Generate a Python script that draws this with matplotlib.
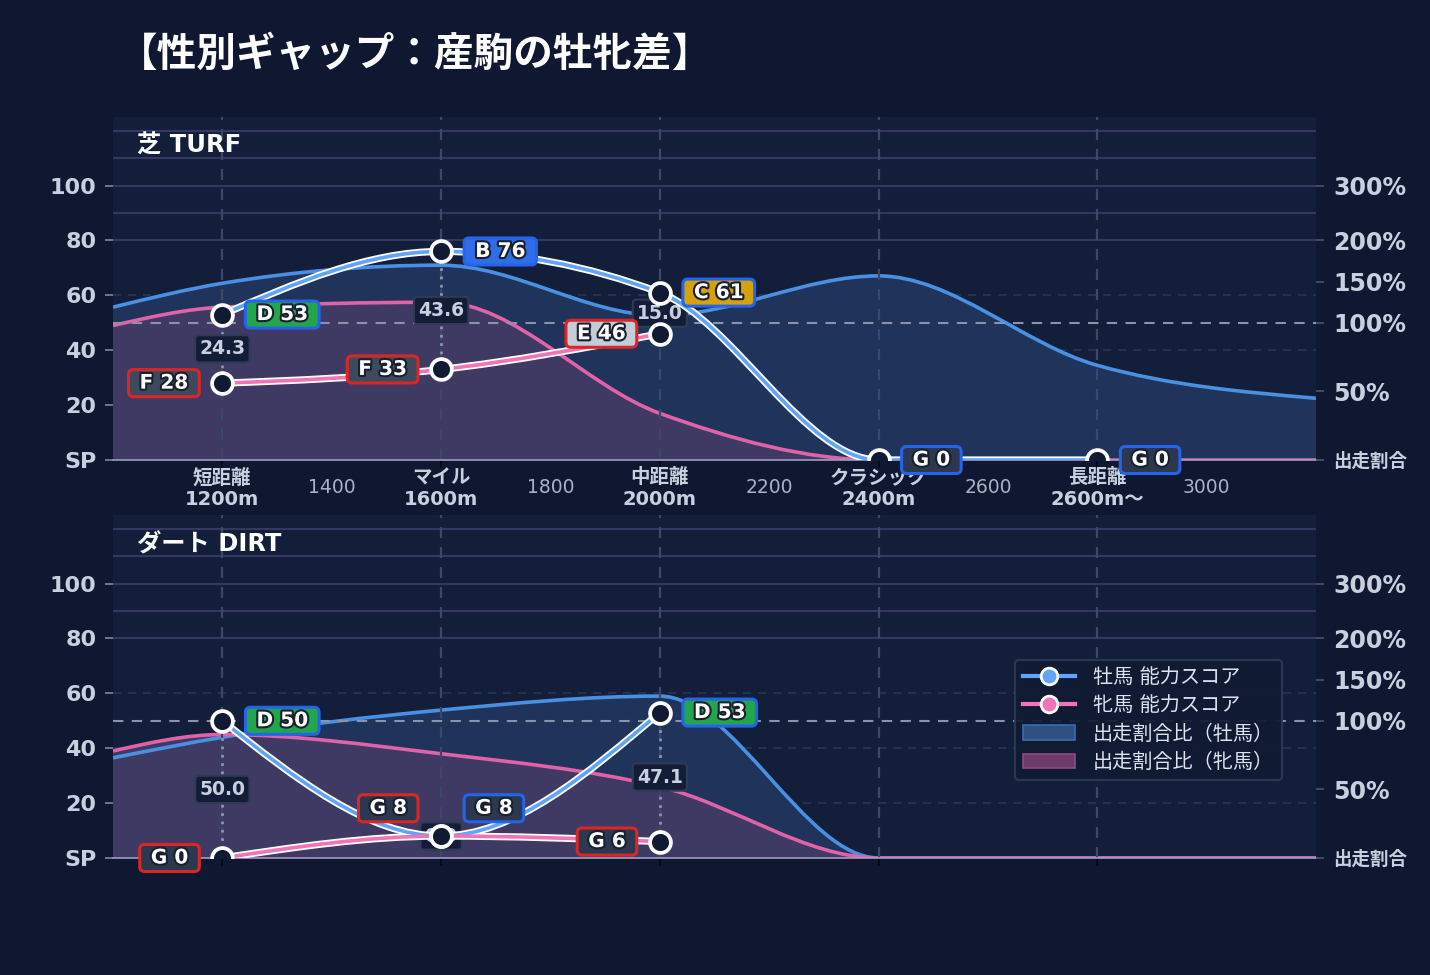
import numpy as np
import matplotlib
matplotlib.use("Agg")
import matplotlib.pyplot as plt
from matplotlib.path import Path
from matplotlib.patches import PathPatch, Patch
from matplotlib.lines import Line2D
import matplotlib.patheffects as pe

plt.rcParams["font.family"] = ["DejaVu Sans", "Noto Sans CJK JP"]

# ---------------------------------------------------------------------------
# Data
# ---------------------------------------------------------------------------

DIST_CAT = [1200, 1600, 2000, 2400, 2800]
CAT_LABELS = ["短距離\n1200m", "マイル\n1600m", "中距離\n2000m",
              "クラシック\n2400m", "長距離\n2600m～"]
MINOR_TICKS = [1400, 1800, 2200, 2600, 3000]

# run-share ratio (%) along the distance axis
RATIO_DIST = [1000, 1200, 1600, 2000, 2400, 2800, 3200]
TURF_MALE_RATIO = [119, 148, 170, 109, 157, 69, 45]
TURF_FEMALE_RATIO = [98, 119, 125, 34, 0, 0, 0]
DIRT_MALE_RATIO = [73, 88, 113, 130, 0, 0, 0]
DIRT_FEMALE_RATIO = [78, 90, 76, 52, 0, 0, 0]

# ability scores
TURF_MALE_SCORE = [53, 76, 61, 0, 0]
TURF_MALE_GRADE = ["D", "B", "C", "G", "G"]
TURF_FEMALE_SCORE = [28, 33, 46]
TURF_FEMALE_GRADE = ["F", "F", "E"]
TURF_GAP = [24.3, 43.6, 15.0]

DIRT_MALE_SCORE = [50, 8, 53]
DIRT_MALE_GRADE = ["D", "G", "D"]
DIRT_FEMALE_SCORE = [0, 8, 6]
DIRT_FEMALE_GRADE = ["G", "G", "G"]
DIRT_GAP = [50.0, 0.0, 47.1]

RATIO_TICKS = [0, 50, 100, 150, 200, 300]
RATIO_TICK_LABELS = ["出走割合", "50%", "100%", "150%", "200%", "300%"]

# ---------------------------------------------------------------------------
# Styles
# ---------------------------------------------------------------------------

FIG_BG = "#0f1830"
AX_BG = "#121e3a"
BLUE = "#60a5fa"
PINK = "#f472b6"
BLUE_AREA = "#4a90e2"
PINK_AREA = "#e063a9"
BLUE_FILL = "#1f335b"
PINK_FILL = "#3e3a63"
TXT = "#c8d0e0"
GRADE_FILL = {"B": "#2f6ee6", "C": "#d4a20c", "D": "#22a64c",
              "E": "#c4ccd8", "F": "#3d4a5e", "G": "#2b3850"}
MALE_EDGE = "#2563eb"
FEMALE_EDGE = "#dc2626"


def ratio_to_y(r):
    # piecewise ratio scale used on the right axis
    return np.interp(r, [0, 100, 200, 300], [0, 50, 80, 100])


def mono_slopes(x, y):
    x = np.asarray(x, float)
    y = np.asarray(y, float)
    h = np.diff(x)
    s = np.diff(y) / h
    n = len(x)
    m = np.zeros(n)
    for i in range(1, n - 1):
        s0, s1 = s[i - 1], s[i]
        if s0 * s1 <= 0:
            m[i] = 0.0
        else:
            p = (s0 * h[i] + s1 * h[i - 1]) / (h[i - 1] + h[i])
            m[i] = (np.sign(s0) + np.sign(s1)) * min(abs(s0), abs(s1), 0.5 * abs(p))
    if n > 1:
        m[0] = (3 * s[0] - m[1]) / 2 if n > 2 else s[0]
        m[-1] = (3 * s[-1] - m[-2]) / 2 if n > 2 else s[-1]
    return m


def mono_path(x, y, close_base=None):
    # monotone cubic drawn as bezier segments
    x = np.asarray(x, float)
    y = np.asarray(y, float)
    m = mono_slopes(x, y)
    verts = [(x[0], y[0])]
    codes = [Path.MOVETO]
    for i in range(len(x) - 1):
        h = x[i + 1] - x[i]
        verts += [(x[i] + h / 3, y[i] + m[i] * h / 3),
                  (x[i + 1] - h / 3, y[i + 1] - m[i + 1] * h / 3),
                  (x[i + 1], y[i + 1])]
        codes += [Path.CURVE4] * 3
    if close_base is not None:
        verts += [(x[-1], close_base), (x[0], close_base), (x[0], y[0])]
        codes += [Path.LINETO, Path.LINETO, Path.CLOSEPOLY]
    return Path(verts, codes)


def score_label(ax, x, y, grade, score, side, edge, dy=0):
    dx = 19.5 if side == "right" else -19.5
    ax.annotate(f" {grade} {score} ", xy=(x, y), xytext=(dx, dy),
                textcoords="offset points", ha="left" if side == "right" else "right",
                va="center", fontsize=14.5, fontweight="bold", color="white",
                bbox=dict(boxstyle="round,pad=0.2,rounding_size=0.25",
                          fc=GRADE_FILL[grade], ec=edge, lw=2.2),
                path_effects=[pe.withStroke(linewidth=3, foreground="#1a2030")],
                zorder=6, annotation_clip=False)


def draw_panel(ax, title, male_ratio, female_ratio, male_score, male_grade,
               female_score, female_grade, gaps, show_xlabels):
    ax.set_facecolor(AX_BG)
    ax.set_xlim(1000, 3200)
    ax.set_ylim(0, 125)

    for v in [80, 90, 100, 110, 120]:
        ax.axhline(v, color="#363662", lw=1.5, zorder=0.5)
    for v in [20, 40, 60]:
        ax.axhline(v, color="#2a3658", lw=1.2, ls=(0, (5, 4)), zorder=0.5)
    for d in DIST_CAT:
        ax.axvline(d, color="#3b4868", lw=1.6, ls=(0, (5, 4)), zorder=1.7)
    ax.axhline(50, color="#8a93aa", lw=1.5, ls=(0, (5, 4)), zorder=1.8)

    ym = ratio_to_y(male_ratio)
    yf = ratio_to_y(female_ratio)
    ax.add_patch(PathPatch(mono_path(RATIO_DIST, ym, 0), fc=BLUE_FILL, ec="none", zorder=1))
    ax.add_patch(PathPatch(mono_path(RATIO_DIST, yf, 0), fc=PINK_FILL, ec="none", zorder=1.1))
    ax.add_patch(PathPatch(mono_path(RATIO_DIST, ym), fill=False, ec=BLUE_AREA, lw=2.6, zorder=1.5))
    ax.add_patch(PathPatch(mono_path(RATIO_DIST, yf), fill=False, ec=PINK_AREA, lw=2.6, zorder=1.6))

    xm = DIST_CAT[:len(male_score)]
    xf = DIST_CAT[:len(female_score)]

    # gap markers between the two scores
    for d, a, b, g in zip(xf, male_score, female_score, gaps):
        ax.plot([d, d], [a, b], color="#8a94aa", lw=2, ls=(0, (1, 2)), zorder=2)
        ax.text(d, (a + b) / 2, f"{g:.1f}", ha="center", va="center", fontsize=13.5,
                fontweight="bold", color=TXT, zorder=2.5,
                bbox=dict(boxstyle="round,pad=0.22,rounding_size=0.2",
                          fc="#131d38", ec="#2f3b55", lw=1.5))

    # score lines
    for xs, ys, col in [(xm, male_score, BLUE), (xf, female_score, PINK)]:
        ax.add_patch(PathPatch(mono_path(xs, ys), fill=False, ec="white", lw=5.2, zorder=3))
        ax.add_patch(PathPatch(mono_path(xs, ys), fill=False, ec=col, lw=2.6, zorder=3.1))
        ax.plot(xs, ys, ls="none", marker="o", ms=15, mfc="#111a33", mec="white",
                mew=2.7, zorder=4)

    # labels move up when both scores sit on the same point
    same = {d for d, a, b in zip(xf, male_score, female_score) if a == b}
    for d, s, g in zip(xm, male_score, male_grade):
        score_label(ax, d, s, g, s, "right", MALE_EDGE, 20 if d in same else 0)
    for d, s, g in zip(xf, female_score, female_grade):
        score_label(ax, d, s, g, s, "left", FEMALE_EDGE, 20 if d in same else 0)

    ax.text(0.02, 0.915, title, transform=ax.transAxes, fontsize=17.5,
            fontweight="bold", color="white", va="center", ha="left", zorder=6)

    for sp in ["top", "right", "left"]:
        ax.spines[sp].set_visible(False)
    ax.spines["bottom"].set_color("#a09cc8")
    ax.spines["bottom"].set_linewidth(1.2)
    ax.spines["bottom"].set_zorder(2.2)

    ax.set_yticks([0, 20, 40, 60, 80, 100])
    ax.set_yticklabels(["SP", "20", "40", "60", "80", "100"])
    ax.tick_params(axis="y", colors="#7f88a0", labelcolor=TXT, labelsize=16,
                   length=6, width=1.2, pad=6)
    for t in ax.get_yticklabels():
        t.set_fontweight("bold")

    ax.set_xticks(DIST_CAT)
    ax.tick_params(axis="x", which="major", colors="#05080f", length=6, width=1.2)
    if show_xlabels:
        ax.set_xticklabels(CAT_LABELS, fontsize=14, fontweight="bold", color=TXT,
                           linespacing=1.15)
        ax.set_xticks(MINOR_TICKS, minor=True)
        ax.set_xticklabels([str(v) for v in MINOR_TICKS], minor=True, fontsize=13.5,
                           color="#aab2c4")
        ax.tick_params(axis="x", which="major", pad=0, labelcolor=TXT)
        ax.tick_params(axis="x", which="minor", length=0, pad=13, labelcolor="#aab2c4")
    else:
        ax.set_xticklabels([])

    axr = ax.twinx()
    axr.set_ylim(ax.get_ylim())
    axr.set_yticks(ratio_to_y(RATIO_TICKS))
    axr.set_yticklabels(RATIO_TICK_LABELS)
    axr.tick_params(axis="y", colors="#4a5470", labelcolor=TXT, labelsize=17,
                    length=6, width=1.2, pad=6.5)
    for t in axr.get_yticklabels():
        t.set_fontweight("bold")
    axr.get_yticklabels()[0].set_fontsize(13.3)
    for sp in axr.spines.values():
        sp.set_visible(False)
    return ax


fig = plt.figure(figsize=(14.3, 9.75), dpi=100, facecolor=FIG_BG)
W, H = 1430, 975
ax1 = fig.add_axes([113 / W, 1 - 460 / H, 1203 / W, 343 / H])
ax2 = fig.add_axes([113 / W, 1 - 858 / H, 1203 / W, 343 / H])

draw_panel(ax1, "芝 TURF", TURF_MALE_RATIO, TURF_FEMALE_RATIO, TURF_MALE_SCORE,
           TURF_MALE_GRADE, TURF_FEMALE_SCORE, TURF_FEMALE_GRADE, TURF_GAP, True)
draw_panel(ax2, "ダート DIRT", DIRT_MALE_RATIO, DIRT_FEMALE_RATIO, DIRT_MALE_SCORE,
           DIRT_MALE_GRADE, DIRT_FEMALE_SCORE, DIRT_FEMALE_GRADE, DIRT_GAP, False)

handles = [
    Line2D([], [], color=BLUE, lw=3, marker="o", ms=12, mfc=BLUE, mec="white", mew=2),
    Line2D([], [], color=PINK, lw=3, marker="o", ms=12, mfc=PINK, mec="white", mew=2),
    Patch(fc="#2f5080", ec="#3d6bb0", lw=1.2),
    Patch(fc="#6b3a66", ec="#8e4a86", lw=1.2),
]
labels = ["牡馬 能力スコア", "牝馬 能力スコア", "出走割合比（牡馬）", "出走割合比（牝馬）"]
leg = ax2.legend(handles, labels, loc="upper right", bbox_to_anchor=(0.972, 0.577),
                 borderaxespad=0, fontsize=14.5, frameon=True, facecolor="#111a33",
                 edgecolor="#2e3a55", framealpha=0.92, labelcolor="#dde3ee",
                 handlelength=2.6, labelspacing=0.45, borderpad=0.4, handletextpad=0.9)
leg.set_zorder(10)
leg.get_frame().set_linewidth(1.5)

fig.text(118 / W, 1 - 55 / H, "【性別ギャップ：産駒の牡牝差】", fontsize=28.5,
         fontweight="bold", color="white", va="center", ha="left")

fig.savefig("out.png", dpi=100, facecolor=FIG_BG)
